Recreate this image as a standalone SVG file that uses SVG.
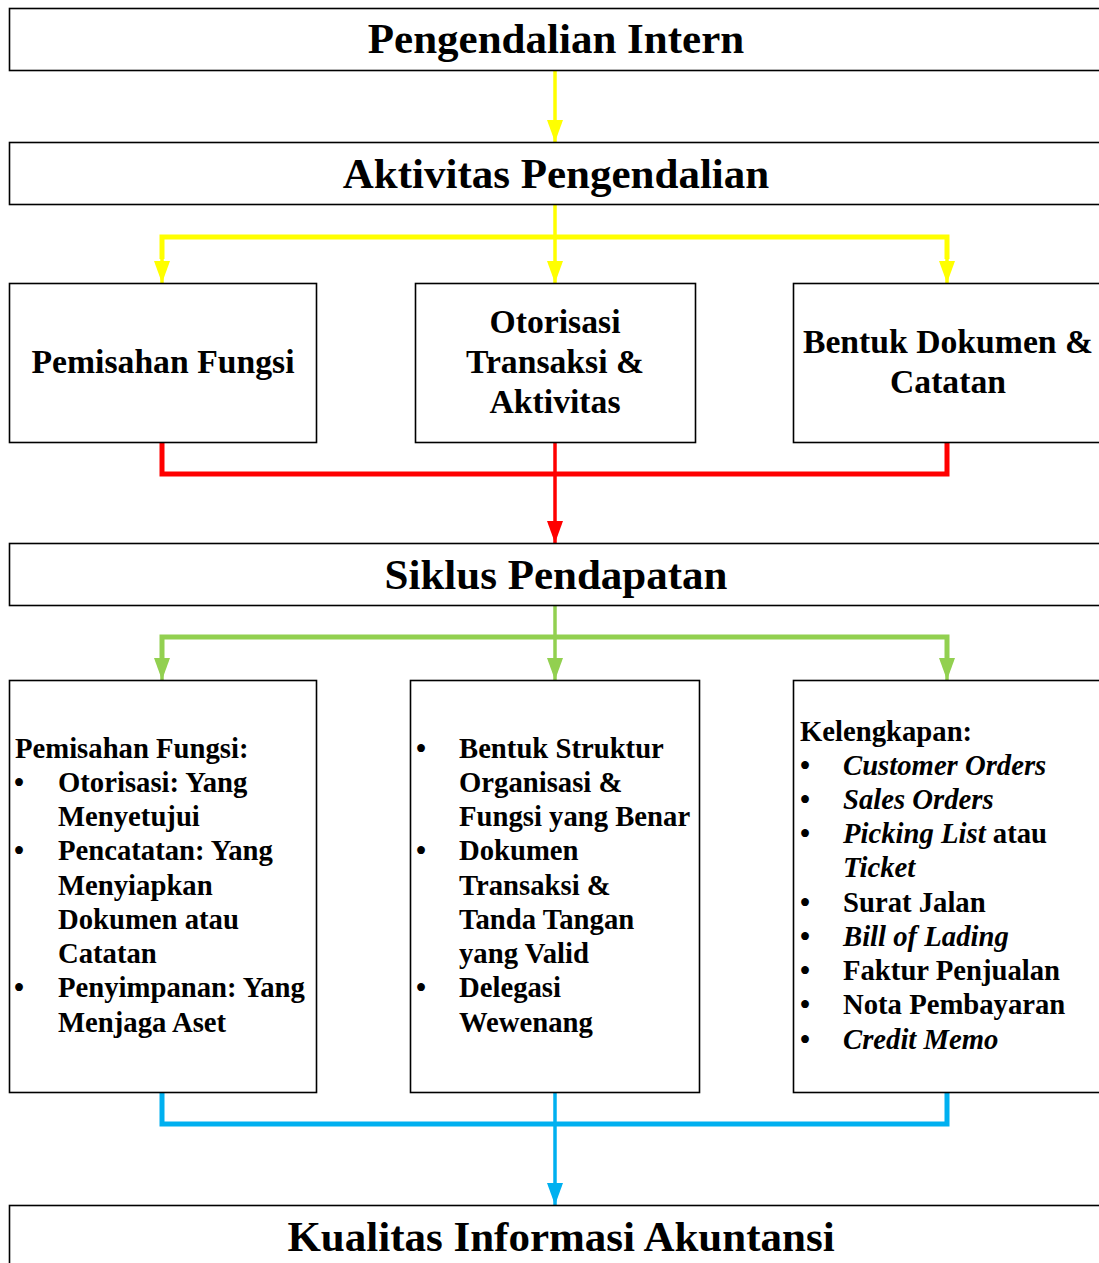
<svg xmlns="http://www.w3.org/2000/svg" width="1099" height="1263" viewBox="0 0 1099 1263">
<style>
.box{fill:#fff;stroke:#000;stroke-width:1.6}
.t{font-family:"Liberation Serif","Times New Roman",serif;font-weight:bold;fill:#000}
.big{font-size:43px;text-anchor:middle}
.mid{font-size:33.7px;text-anchor:middle}
.sm{font-size:28.7px}
.it{font-style:italic}
.v{fill:none;stroke-width:3.5}
.h{fill:none;stroke-width:5;stroke-linejoin:miter}
.y{stroke:#ffff00}.r{stroke:#ff0000}.g{stroke:#92d050}.b{stroke:#00b0f0}
</style>
<defs>
<marker id="ay" markerUnits="userSpaceOnUse" markerWidth="16" markerHeight="24" refX="8" refY="22" viewBox="0 0 16 24"><path d="M0,0 L16,0 L8,22 Z" fill="#ffff00"/></marker>
<marker id="ar" markerUnits="userSpaceOnUse" markerWidth="16" markerHeight="24" refX="8" refY="22" viewBox="0 0 16 24"><path d="M0,0 L16,0 L8,22 Z" fill="#ff0000"/></marker>
<marker id="ag" markerUnits="userSpaceOnUse" markerWidth="16" markerHeight="24" refX="8" refY="22" viewBox="0 0 16 24"><path d="M0,0 L16,0 L8,22 Z" fill="#92d050"/></marker>
<marker id="ab" markerUnits="userSpaceOnUse" markerWidth="16" markerHeight="24" refX="8" refY="22" viewBox="0 0 16 24"><path d="M0,0 L16,0 L8,22 Z" fill="#00b0f0"/></marker>
</defs>
<rect width="1099" height="1263" fill="#fff"/>

<g id="connectors">
<line class="v y" x1="555" y1="70" x2="555" y2="142" marker-end="url(#ay)"/>
<polyline class="h y" points="162,259 162,237 947,237 947,259"/>
<line class="v y" x1="162" y1="237" x2="162" y2="283" marker-end="url(#ay)"/>
<line class="v y" x1="947" y1="237" x2="947" y2="283" marker-end="url(#ay)"/>
<line class="v y" x1="555" y1="205" x2="555" y2="283" marker-end="url(#ay)"/>
<polyline class="h r" points="162,442 162,474 947,474 947,442"/>
<line class="v r" x1="555" y1="442" x2="555" y2="543" marker-end="url(#ar)"/>
<polyline class="h g" points="162,658 162,637 947,637 947,658"/>
<line class="v g" x1="162" y1="637" x2="162" y2="680" marker-end="url(#ag)"/>
<line class="v g" x1="947" y1="637" x2="947" y2="680" marker-end="url(#ag)"/>
<line class="v g" x1="555" y1="605" x2="555" y2="680" marker-end="url(#ag)"/>
<polyline class="h b" points="162,1092 162,1124 947,1124 947,1092"/>
<line class="v b" x1="555" y1="1092" x2="555" y2="1205" marker-end="url(#ab)"/>
</g>

<g id="pengendalian-intern">
<rect class="box" x="9.5" y="8.5" width="1100" height="62"/>
<text class="t big" x="556" y="53">Pengendalian Intern</text>
</g>

<g id="aktivitas-pengendalian">
<rect class="box" x="9.5" y="142.5" width="1100" height="62"/>
<text class="t big" x="556" y="188">Aktivitas Pengendalian</text>
</g>

<g id="pemisahan-fungsi">
<rect class="box" x="9.5" y="283.5" width="307" height="159"/>
<text class="t mid" x="163" y="373">Pemisahan Fungsi</text>
</g>

<g id="otorisasi">
<rect class="box" x="415.5" y="283.5" width="280" height="159"/>
<text class="t mid" x="555" y="333">Otorisasi</text>
<text class="t mid" x="555" y="373">Transaksi &amp;</text>
<text class="t mid" x="555" y="413">Aktivitas</text>
</g>

<g id="bentuk-dokumen">
<rect class="box" x="793.5" y="283.5" width="320" height="159"/>
<text class="t mid" x="948" y="353">Bentuk Dokumen &amp;</text>
<text class="t mid" x="948" y="393">Catatan</text>
</g>

<g id="siklus-pendapatan">
<rect class="box" x="9.5" y="543.5" width="1100" height="62"/>
<text class="t big" x="556" y="589">Siklus Pendapatan</text>
</g>

<g id="detail-pemisahan">
<rect class="box" x="9.5" y="680.5" width="307" height="412"/>
<text class="t sm" x="15" y="758">Pemisahan Fungsi:</text>
<text class="t sm" x="14" y="792">•</text>
<text class="t sm" x="58" y="792">Otorisasi: Yang</text>
<text class="t sm" x="58" y="826">Menyetujui</text>
<text class="t sm" x="14" y="860">•</text>
<text class="t sm" x="58" y="860">Pencatatan: Yang</text>
<text class="t sm" x="58" y="895">Menyiapkan</text>
<text class="t sm" x="58" y="929">Dokumen atau</text>
<text class="t sm" x="58" y="963">Catatan</text>
<text class="t sm" x="14" y="997">•</text>
<text class="t sm" x="58" y="997">Penyimpanan: Yang</text>
<text class="t sm" x="58" y="1032">Menjaga Aset</text>
</g>

<g id="detail-otorisasi">
<rect class="box" x="410.5" y="680.5" width="289" height="412"/>
<text class="t sm" x="416" y="758">•</text>
<text class="t sm" x="459" y="758">Bentuk Struktur</text>
<text class="t sm" x="459" y="792">Organisasi &amp;</text>
<text class="t sm" x="459" y="826">Fungsi yang Benar</text>
<text class="t sm" x="416" y="860">•</text>
<text class="t sm" x="459" y="860">Dokumen</text>
<text class="t sm" x="459" y="895">Transaksi &amp;</text>
<text class="t sm" x="459" y="929">Tanda Tangan</text>
<text class="t sm" x="459" y="963">yang Valid</text>
<text class="t sm" x="416" y="997">•</text>
<text class="t sm" x="459" y="997">Delegasi</text>
<text class="t sm" x="459" y="1032">Wewenang</text>
</g>

<g id="detail-kelengkapan">
<rect class="box" x="793.5" y="680.5" width="320" height="412"/>
<text class="t sm" x="800" y="741">Kelengkapan:</text>
<text class="t sm" x="800" y="775">•</text>
<text class="t sm it" x="843" y="775">Customer Orders</text>
<text class="t sm" x="800" y="809">•</text>
<text class="t sm it" x="843" y="809">Sales Orders</text>
<text class="t sm" x="800" y="843">•</text>
<text class="t sm" x="843" y="843"><tspan font-style="italic">Picking List</tspan> atau</text>
<text class="t sm it" x="843" y="877">Ticket</text>
<text class="t sm" x="800" y="912">•</text>
<text class="t sm" x="843" y="912">Surat Jalan</text>
<text class="t sm" x="800" y="946">•</text>
<text class="t sm it" x="843" y="946">Bill of Lading</text>
<text class="t sm" x="800" y="980">•</text>
<text class="t sm" x="843" y="980">Faktur Penjualan</text>
<text class="t sm" x="800" y="1014">•</text>
<text class="t sm" x="843" y="1014">Nota Pembayaran</text>
<text class="t sm" x="800" y="1049">•</text>
<text class="t sm it" x="843" y="1049">Credit Memo</text>
</g>

<g id="kualitas-informasi">
<rect class="box" x="9.5" y="1205.5" width="1100" height="70"/>
<text class="t big" x="561" y="1251">Kualitas Informasi Akuntansi</text>
</g>
</svg>
